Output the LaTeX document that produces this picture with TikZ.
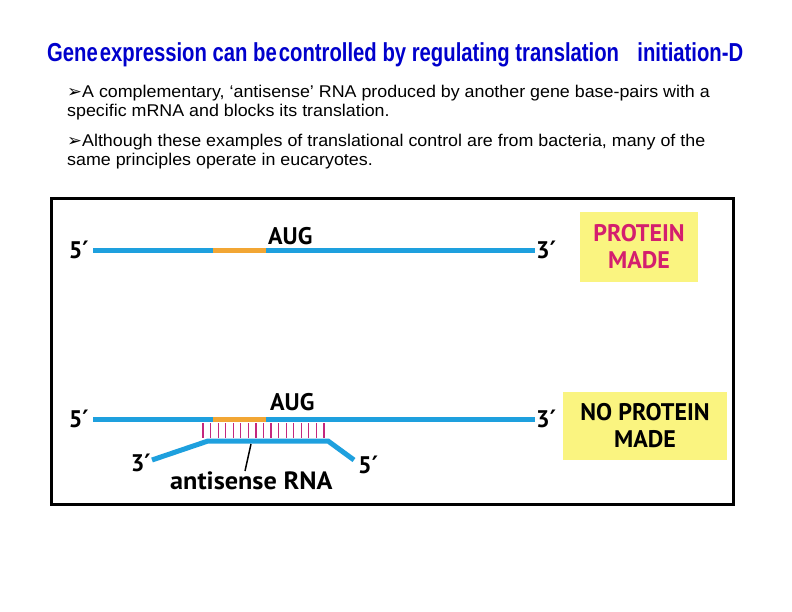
\documentclass[tikz,border=0pt]{standalone}
\usepackage{fontspec}
\usepackage{graphicx}
\setmainfont{Liberation Sans}
\newfontfamily\labelfont{PT Sans}
\newfontfamily\symfont{DejaVu Sans}
\definecolor{rnablue}{RGB}{30,160,222}
\definecolor{augorange}{RGB}{242,166,52}
\definecolor{pairpink}{RGB}{196,40,126}
\definecolor{boxyellow}{RGB}{250,244,128}
\definecolor{madered}{RGB}{212,30,110}
\definecolor{titleblue}{RGB}{0,0,204}
\newcommand{\bulletarrow}{{\symfont\char"27A2}}
\newcommand{\primemark}{{\symfont\bfseries\char"2032}}
\newcommand{\bodyline}[1]{\scalebox{1.05}[1]{#1}}
\tikzset{
  strand/.style={rnablue, line width=5pt},
  codon/.style={augorange, line width=5pt},
  endlabel/.style={font=\labelfont\bfseries\fontsize{24}{24}\selectfont, inner sep=0pt},
  bodytext/.style={anchor=base west, inner sep=0pt, font=\fontsize{17}{17}\selectfont},
  resultbox/.style={fill=boxyellow, inner sep=0pt, align=center,
    font=\labelfont\bfseries\fontsize{24}{27}\selectfont}
}
\begin{document}
\begin{tikzpicture}[x=1pt, y=-1pt]
  \useasboundingbox (0,0) rectangle (792,612);
  % title and text
  \node[anchor=base west, inner sep=0pt, text=titleblue,
    font=\bfseries\fontsize{26}{26}\selectfont] (title) at (47,62)
    {\resizebox{696pt}{\height}{Gene\hspace{0.1em}expression can be\hspace{0.1em}controlled by regulating translation\hspace{0.9em}initiation-D}};
  \node[bodytext] (lineA) at (67,98) {\bodyline{\bulletarrow A complementary, ‘antisense’ RNA produced by another gene base-pairs with a}};
  \node[bodytext] (lineB) at (67,117) {\bodyline{specific mRNA and blocks its translation.}};
  \node[bodytext] (lineC) at (67,147) {\bodyline{\bulletarrow Although these examples of translational control are from bacteria, many of the}};
  \node[bodytext] (lineD) at (67,166) {\bodyline{same principles operate in eucaryotes.}};
  % frame
  \draw[line width=3pt] (51.5,198.5) rectangle (733,504.5);
  % upper mRNA
  \draw[strand] (93,251) -- (535,251);
  \draw[codon] (213,251) -- (266,251);
  \node[endlabel, anchor=east] (fiveA) at (89,250) {5\primemark};
  \node[endlabel, anchor=west] (threeA) at (536,250) {3\primemark};
  \node[endlabel, anchor=base west] (augA) at (268,245) {AUG};
  \node[resultbox, minimum width=118pt, minimum height=70pt, text=madered] (madeA) at (639,247) {PROTEIN\\MADE};
  % lower mRNA
  \draw[strand] (93,419) -- (535,419);
  \draw[codon] (213,419) -- (266,419);
  \node[endlabel, anchor=east] (fiveB) at (89,419) {5\primemark};
  \node[endlabel, anchor=west] (threeB) at (536,419) {3\primemark};
  \node[endlabel, anchor=base west] (augB) at (270,410) {AUG};
  \node[resultbox, minimum width=164pt, minimum height=68pt] (madeB) at (645,426) {NO PROTEIN\\MADE};
  % base pairs
  \foreach \i in {0,...,16}
    \draw[pairpink, line width=1.2pt] (203+7.56*\i,423) -- (203+7.56*\i,438);
  % antisense strand
  \draw[strand] (152,460) -- (208,441) -- (328,441) -- (354,460);
  \node[endlabel, anchor=north east] (threeC) at (151,454) {3\primemark};
  \node[endlabel, anchor=north west] (fiveC) at (358,456) {5\primemark};
  \node[endlabel, anchor=base west, font=\labelfont\bfseries\fontsize{25}{25}\selectfont] (antisense) at (170,489) {\scalebox{1.05}[1]{antisense RNA}};
  \coordinate (pointer) at (251,444);
  \draw[line width=1.5pt] (pointer) -- ([xshift=-6pt]pointer |- antisense.north);
\end{tikzpicture}
\end{document}
